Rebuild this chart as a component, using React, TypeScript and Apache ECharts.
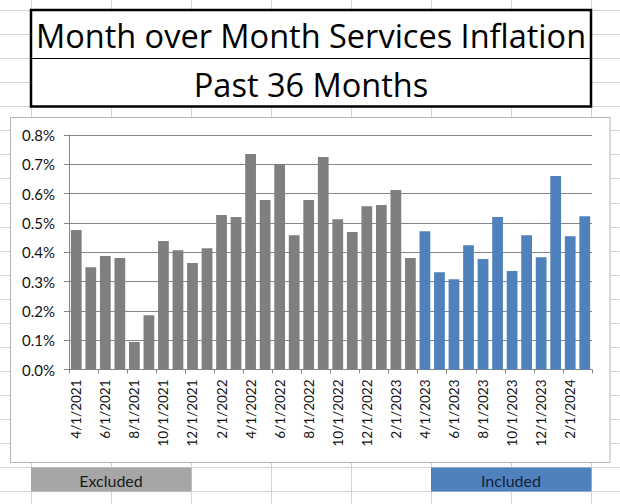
import React, { useEffect, useRef } from "react";
import * as echarts from "echarts";

const categories = [
  "4/1/2021", "5/1/2021", "6/1/2021", "7/1/2021", "8/1/2021", "9/1/2021",
  "10/1/2021", "11/1/2021", "12/1/2021", "1/1/2022", "2/1/2022", "3/1/2022",
  "4/1/2022", "5/1/2022", "6/1/2022", "7/1/2022", "8/1/2022", "9/1/2022",
  "10/1/2022", "11/1/2022", "12/1/2022", "1/1/2023", "2/1/2023", "3/1/2023",
  "4/1/2023", "5/1/2023", "6/1/2023", "7/1/2023", "8/1/2023", "9/1/2023",
  "10/1/2023", "11/1/2023", "12/1/2023", "1/1/2024", "2/1/2024", "3/1/2024",
];

// Month-over-month services inflation, in percent
const excludedValues = [
  0.476, 0.349, 0.387, 0.38, 0.094, 0.185, 0.438, 0.407, 0.363, 0.414, 0.527, 0.52,
  0.735, 0.578, 0.701, 0.458, 0.578, 0.725, 0.513, 0.469, 0.557, 0.561, 0.612, 0.38,
];
const includedValues = [
  0.472, 0.332, 0.308, 0.424, 0.377, 0.52, 0.336, 0.458, 0.383, 0.66, 0.455, 0.523,
];

const titleLine1 = "Month over Month Services Inflation";
const titleLine2 = "Past 36 Months";
const excludedLabel = "Excluded";
const includedLabel = "Included";

const FONT = "Lato, 'Open Sans', sans-serif";
const TITLE_FONT = "'Open Sans', Lato, sans-serif";
const GREY = "#7f7f7f";
const BLUE = "#4f81bd";

export default function App() {
  const ref = useRef<HTMLDivElement>(null);

  useEffect(() => {
    if (!ref.current) return;
    const chart = echarts.init(ref.current, undefined, { renderer: "svg" });

    const sheetLines: any[] = [];
    for (let k = 0; k < 8; k++) {
      const x = 31.5 + 80 * k;
      sheetLines.push({
        type: "line",
        z: -5,
        shape: { x1: x, y1: 0, x2: x, y2: 504 },
        style: { stroke: "#d4d4d4", lineWidth: 1 },
      });
    }
    for (let n = 0; n < 21; n++) {
      const y = Math.round(10 + 24.07 * n) + 0.5;
      sheetLines.push({
        type: "line",
        z: -5,
        shape: { x1: 0, y1: y, x2: 620, y2: y },
        style: { stroke: "#d4d4d4", lineWidth: 1 },
      });
    }

    const data = [
      ...excludedValues.map((v) => ({ value: v, itemStyle: { color: GREY } })),
      ...includedValues.map((v) => ({ value: v, itemStyle: { color: BLUE } })),
    ];

    chart.setOption({
      animation: false,
      backgroundColor: "#ffffff",
      textStyle: { fontFamily: FONT },
      grid: { left: 69, right: 28, top: 135, bottom: 134.5, containLabel: false },
      xAxis: {
        type: "category",
        data: categories,
        axisLine: { show: true, lineStyle: { color: "#868686", width: 1 } },
        axisTick: { show: true, interval: 1, length: 4, lineStyle: { color: "#868686" } },
        axisLabel: {
          interval: 1,
          rotate: 90,
          margin: 10,
          fontSize: 13.5,
          color: "#111",
          fontFamily: FONT,
        },
        splitLine: { show: false },
      },
      yAxis: {
        type: "value",
        min: 0,
        max: 0.8,
        interval: 0.1,
        axisLine: { show: true, lineStyle: { color: "#868686", width: 1 } },
        axisTick: { show: true, length: 5, lineStyle: { color: "#868686" } },
        axisLabel: {
          margin: 14,
          fontSize: 15,
          color: "#111",
          fontFamily: FONT,
          formatter: (v: number) => `${v.toFixed(1)}%`,
        },
        splitLine: { show: true, lineStyle: { color: "#868686", width: 1 } },
      },
      series: [
        {
          type: "bar",
          data,
          barCategoryGap: "26%",
        },
      ],
      graphic: [
        ...sheetLines,
        {
          type: "rect",
          z: -4,
          shape: { x: 31, y: 10, width: 560, height: 96.5 },
          style: { fill: "#ffffff", stroke: "#000", lineWidth: 2.5 },
        },
        {
          type: "line",
          z: -3,
          shape: { x1: 31, y1: 58.5, x2: 591, y2: 58.5 },
          style: { stroke: "#000", lineWidth: 1.2 },
        },
        {
          type: "text",
          z: 10,
          x: 311,
          y: 35.5,
          style: {
            text: titleLine1,
            fontFamily: TITLE_FONT,
            fontSize: 32.5,
            fill: "#000",
            align: "center",
            verticalAlign: "middle",
          },
        },
        {
          type: "text",
          z: 10,
          x: 311,
          y: 84,
          style: {
            text: titleLine2,
            fontFamily: TITLE_FONT,
            fontSize: 32.5,
            fill: "#000",
            align: "center",
            verticalAlign: "middle",
          },
        },
        {
          type: "rect",
          z: -4,
          shape: { x: 10.5, y: 117.5, width: 599.5, height: 345 },
          style: { fill: "#ffffff", stroke: "#b3b3b3", lineWidth: 1 },
        },
        {
          type: "rect",
          z: -4,
          shape: { x: 31, y: 467.5, width: 160.5, height: 24 },
          style: { fill: "#a6a6a6" },
        },
        {
          type: "text",
          z: 10,
          x: 111,
          y: 480,
          style: {
            text: excludedLabel,
            fontFamily: FONT,
            fontSize: 16,
            fill: "#1a1a1a",
            align: "center",
            verticalAlign: "middle",
          },
        },
        {
          type: "rect",
          z: -4,
          shape: { x: 431, y: 467.5, width: 160.5, height: 24 },
          style: { fill: BLUE },
        },
        {
          type: "text",
          z: 10,
          x: 511,
          y: 480,
          style: {
            text: includedLabel,
            fontFamily: FONT,
            fontSize: 16,
            fill: "#14223c",
            align: "center",
            verticalAlign: "middle",
          },
        },
      ],
    });

    return () => chart.dispose();
  }, []);

  return (
    <div
      ref={ref}
      style={{ position: "absolute", left: 0, top: 0, width: 620, height: 504 }}
    />
  );
}
